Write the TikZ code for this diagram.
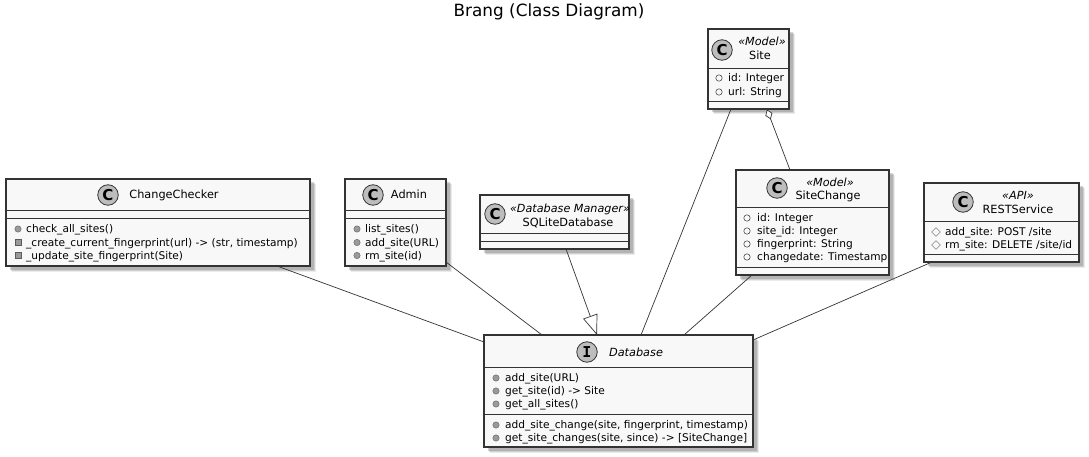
\documentclass[tikz,border=0pt]{standalone}
\usepackage{fontspec}
\setmainfont{DejaVu Sans}
\setmonofont{DejaVu Sans Mono}
\usetikzlibrary{arrows.meta,calc,shadows,shapes.geometric}
\definecolor{umlline}{HTML}{333333}
\definecolor{umlfill}{HTML}{F8F8F8}
\definecolor{umlgrey}{HTML}{BDBDBD}
\definecolor{umlicon}{HTML}{9A9A9A}
\definecolor{umlsh}{HTML}{707070}
\tikzset{
  softshadow/.style={
    drop shadow={shadow xshift=5.5pt,shadow yshift=-5.5pt,fill=umlsh,opacity=.14},
    drop shadow={shadow xshift=4.5pt,shadow yshift=-4.5pt,fill=umlsh,opacity=.22},
    drop shadow={shadow xshift=3.5pt,shadow yshift=-3.5pt,fill=umlsh,opacity=.3}},
  umlbox/.style={draw=umlline,fill=umlfill,line width=1.2pt,anchor=north west,inner sep=0pt,outer sep=0pt,softshadow},
  sepline/.style={draw=umlline,line width=.9pt},
  assoc/.style={draw=umlline,line width=.7pt},
  badge/.style={circle,draw=umlline,fill=umlgrey,line width=.8pt,minimum size=20.5pt,inner sep=0pt,outer sep=0pt,
    font=\fontsize{15}{15}\selectfont\bfseries},
  headtext/.style={anchor=base,inner sep=0pt,font=\fontsize{11.3}{12}\selectfont},
  stereo/.style={anchor=base,inner sep=0pt,font=\fontsize{11.2}{12}\selectfont\itshape},
  membertext/.style={anchor=base west,inner sep=0pt,font=\fontsize{10.6}{12}\selectfont},
  pubmethod/.style={circle,draw=umlline!80,fill=umlicon,line width=.4pt,minimum size=6.4pt,inner sep=0pt},
  privmethod/.style={rectangle,draw=umlline!80,fill=umlicon,line width=.4pt,minimum size=6.2pt,inner sep=0pt},
  pubfield/.style={circle,draw=umlline,fill=none,line width=.5pt,minimum size=6.4pt,inner sep=0pt},
  protfield/.style={diamond,draw=umlline!80,fill=none,line width=.4pt,minimum size=9pt,inner sep=0pt,shape aspect=1},
}
% name, x, y, width, height
\newcommand{\umlbx}[5]{\node[umlbox,minimum width=#4pt,minimum height=#5pt] (#1) at (#2,#3) {};}
% box, offset from top
\newcommand{\umlsep}[2]{\draw[sepline] ([yshift=-#2pt]#1.north west) -- ([yshift=-#2pt]#1.north east);}
% name, icon style, icon x, text x, centre y, text
\newcommand{\umlrow}[6]{\node[#2] (#1i) at (#3,#5) {};
  \node[membertext] (#1t) at (#4,#5+3.7) {#6};}
\begin{document}
\begin{tikzpicture}[x=1pt,y=-1pt]
\useasboundingbox (0,0) rectangle (1089,457);
\node[anchor=base,inner sep=0pt,font=\fontsize{16.85}{18}\selectfont] (title) at (549,16.5) {Brang (Class Diagram)};

% boxes
\umlbx{cc}{6}{179}{304}{87}
\umlbx{admin}{345}{179}{101}{87}
\umlbx{sql}{480}{195}{149}{54}
\umlbx{db}{484}{335}{269}{112}
\umlbx{site}{708}{29}{81}{80}
\umlbx{change}{736}{170}{153}{105}
\umlbx{rest}{924}{183}{155}{79}

% separators
\umlsep{cc}{31}\umlsep{cc}{39}
\umlsep{admin}{31}\umlsep{admin}{39}
\umlsep{sql}{38}\umlsep{sql}{46}
\umlsep{db}{32}\umlsep{db}{79}
\umlsep{site}{39}\umlsep{site}{72}
\umlsep{change}{37}\umlsep{change}{97}
\umlsep{rest}{38}\umlsep{rest}{71}

% connectors
\draw[assoc] ($(cc.south west)+(271,0)$) -- ($(db.north west)+(0,7)$);
\draw[assoc] ($(admin.north east)+(0,83)$) -- ($(db.north west)+(58,0)$);
\draw[assoc,-{Triangle[open,length=20pt,width=15pt,fill=white]}] ($(sql.south west)+(86,0)$) -- ($(db.north west)+(113,0)$);
\draw[assoc] ($(site.south west)+(23,0)$) -- ($(db.north west)+(157,0)$);
\draw[assoc,{Diamond[open,length=10.5pt,width=7.5pt,fill=white]}-] ($(site.south west)+(59,.5)$) -- ($(change.north west)+(54,0)$);
\draw[assoc] ($(change.south west)+(16,0)$) -- ($(db.north west)+(200,0)$);
\draw[assoc] ($(rest.south west)+(8,0)$) -- ($(db.north east)+(0,5)$);

% badges
\node[badge] (ccb) at (108,195) {C};
\node[badge] (adminb) at (373,195) {C};
\node[badge] (sqlb) at (495,214) {C};
\node[badge,font=\fontsize{15}{15}\selectfont\bfseries\ttfamily] (dbb) at (587,352) {I};
\node[badge] (siteb) at (722,50) {C};
\node[badge] (changeb) at (777,188) {C};
\node[badge] (restb) at (963,202) {C};

% titles
\node[headtext] (ccn) at (174,199) {ChangeChecker};
\node[headtext] (adminn) at (409,199) {Admin};
\node[stereo] (sqls) at (570,212) {«Database Manager»};
\node[headtext] (sqln) at (568,226) {SQLiteDatabase};
\node[headtext,font=\fontsize{11.3}{12}\selectfont\itshape] (dbn) at (636,356) {Database};
\node[stereo] (sites) at (762,46) {«Model»};
\node[headtext] (siten) at (760,60) {Site};
\node[stereo] (changes) at (830,186) {«Model»};
\node[headtext] (changen) at (828,200) {SiteChange};
\node[stereo] (rests) at (1018,200) {«API»};
\node[headtext] (restn) at (1018,213) {RESTService};

% members
\umlrow{cca}{pubmethod}{18}{26}{229}{check\_all\_sites()}
\umlrow{ccb2}{privmethod}{18}{26}{242.5}{\_create\_current\_fingerprint(url) -> (str, timestamp)}
\umlrow{ccc}{privmethod}{18}{26}{255.5}{\_update\_site\_fingerprint(Site)}
\umlrow{ada}{pubmethod}{357}{365}{229}{list\_sites()}
\umlrow{adb}{pubmethod}{357}{365}{242.5}{add\_site(URL)}
\umlrow{adc}{pubmethod}{357}{365}{255.5}{rm\_site(id)}
\umlrow{dba}{pubmethod}{496}{505}{378}{add\_site(URL)}
\umlrow{dbb2}{pubmethod}{496}{505}{391}{get\_site(id) -> Site}
\umlrow{dbc}{pubmethod}{496}{505}{404}{get\_all\_sites()}
\umlrow{dbd}{pubmethod}{496}{505}{425}{add\_site\_change(site, fingerprint, timestamp)}
\umlrow{dbe}{pubmethod}{496}{505}{438}{get\_site\_changes(site, since) -> [SiteChange]}
\umlrow{sia}{pubfield}{719}{728}{78}{id: Integer}
\umlrow{sib}{pubfield}{719}{728}{92}{url: String}
\umlrow{cha}{pubfield}{747}{757}{218}{id: Integer}
\umlrow{chb}{pubfield}{747}{757}{231}{site\_id: Integer}
\umlrow{chc}{pubfield}{747}{757}{244}{fingerprint: String}
\umlrow{chd}{pubfield}{747}{757}{257}{changedate: Timestamp}
\umlrow{rea}{protfield}{936}{945}{232}{add\_site: POST /site}
\umlrow{reb}{protfield}{936}{945}{245}{rm\_site: DELETE /site/id}
\end{tikzpicture}
\end{document}
